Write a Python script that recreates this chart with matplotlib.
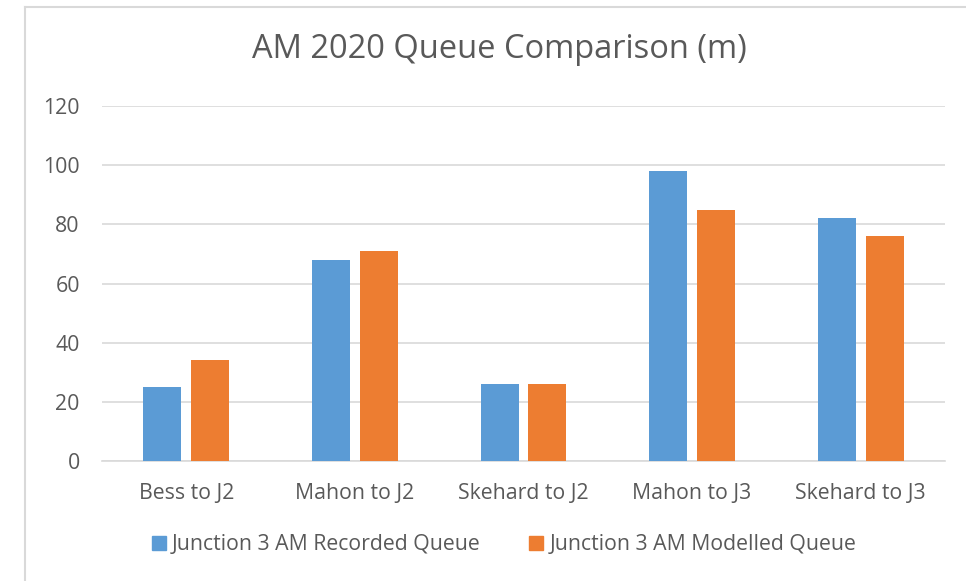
import numpy as np
import matplotlib.pyplot as plt
from matplotlib.lines import Line2D

# Values
categories = ['Bess to J2', 'Mahon to J2', 'Skehard to J2', 'Mahon to J3', 'Skehard to J3']
recorded = [25, 68, 26, 98, 82]
modelled = [34, 71, 26, 85, 76]
series_names = ['Junction 3 AM Recorded Queue', 'Junction 3 AM Modelled Queue']

blue = '#5B9BD5'
orange = '#ED7D31'
grey_text = '#595959'
grid_col = '#D9D9D9'

plt.rcParams['font.family'] = ['Open Sans', 'DejaVu Sans']

fig = plt.figure(figsize=(9.66, 5.81), dpi=100)
W, H = 966, 581
ax = fig.add_axes([102 / W, 1 - 461 / H, (945 - 102) / W, (461 - 106) / H])

x = np.arange(len(categories))
width = 0.225
ax.bar(x - 0.142, recorded, width, color=blue, label=series_names[0], zorder=3)
ax.bar(x + 0.142, modelled, width, color=orange, label=series_names[1], zorder=3)

ax.set_xlim(-0.5, len(categories) - 0.5)
ax.set_ylim(0, 120)
ax.set_yticks(range(0, 121, 20))
ax.set_xticks(x)
ax.set_xticklabels(categories)
ax.tick_params(axis='both', length=0, labelsize=15.3, labelcolor=grey_text)
ax.tick_params(axis='y', pad=16)
ax.tick_params(axis='x', pad=16)
ax.grid(axis='y', color=grid_col, linewidth=1.2, zorder=0)
for side in ['top', 'right', 'left']:
    ax.spines[side].set_visible(False)
ax.spines['bottom'].set_color(grid_col)
ax.spines['bottom'].set_linewidth(1.2)

fig.text(0.5 * (250 + 748) / W, 1 - 49 / H, 'AM 2020 Queue Comparison (m)',
         ha='center', va='center', fontsize=23.5, color=grey_text)

handles = [plt.Rectangle((0, 0), 1, 1, color=blue), plt.Rectangle((0, 0), 1, 1, color=orange)]
fig.legend(handles, series_names, loc='center', bbox_to_anchor=(504 / W, 1 - 545 / H),
           ncol=2, frameon=False, fontsize=15.3, labelcolor=grey_text,
           handlelength=0.66, handleheight=0.66, handletextpad=0.28, columnspacing=2.3)

# chart area border (cut off at the right and bottom edges)
fig.add_artist(Line2D([25 / W, 25 / W], [0, 1 - 7 / H], transform=fig.transFigure,
                      color=grid_col, linewidth=1.5))
fig.add_artist(Line2D([25 / W, 1], [1 - 7 / H, 1 - 7 / H], transform=fig.transFigure,
                      color=grid_col, linewidth=1.5))

fig.savefig('out.png', dpi=100)
